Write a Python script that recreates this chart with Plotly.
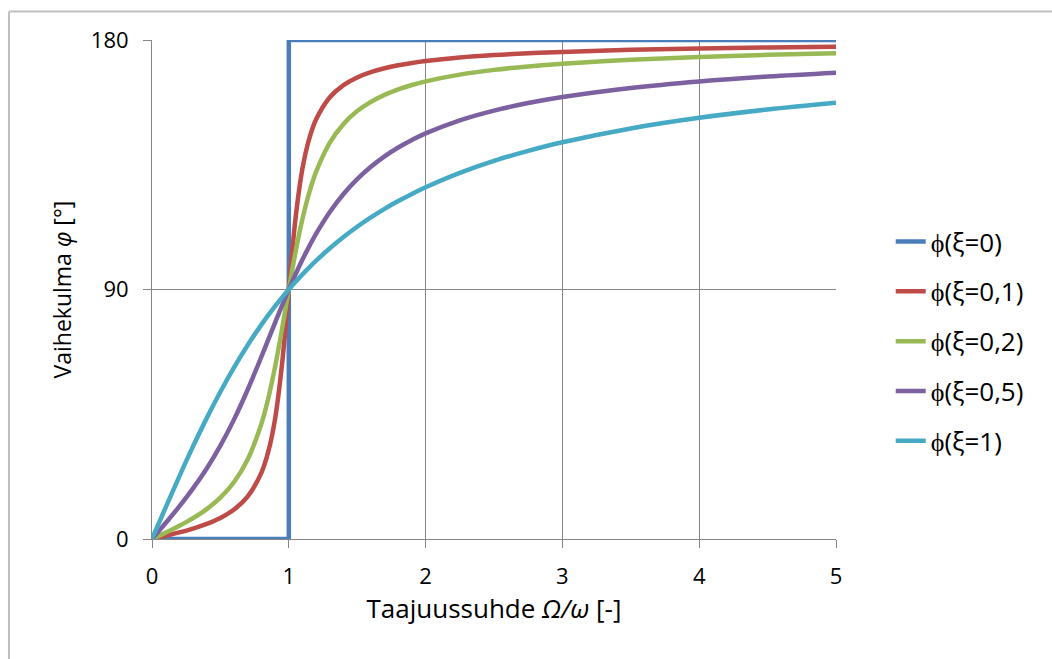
import plotly.graph_objects as go

# Frequency ratio values (x) shared by the damped curves
X = [0, 0.1, 0.2, 0.3, 0.4, 0.5, 0.6, 0.7, 0.8, 0.85, 0.9, 0.95, 1.0, 1.05, 1.1, 1.15, 1.2,
     1.3, 1.4, 1.5, 1.6, 1.7, 1.8, 1.9, 2.0, 2.25, 2.5, 2.75, 3.0, 3.5, 4.0, 4.5, 5.0]

X_XI0 = [0, 1, 1, 5]
PHI_XI0 = [0, 0, 180, 180]

PHI_XI01 = [0, 1.16, 2.39, 3.77, 5.44, 7.59, 10.62, 15.35, 23.96, 31.49, 43.45, 62.84, 90,
            116.02, 133.67, 144.50, 151.39, 159.36, 163.74, 166.50, 168.41, 169.80, 170.87,
            171.72, 172.41, 173.68, 174.56, 175.21, 175.71, 176.44, 176.95, 177.32, 177.61]

PHI_XI02 = [0, 2.31, 4.76, 7.51, 10.78, 14.93, 20.56, 28.77, 41.63, 50.78, 62.18, 75.61, 90,
            103.71, 115.51, 125.03, 132.51, 143.00, 149.74, 154.36, 157.69, 160.21, 162.18,
            163.77, 165.07, 167.51, 169.22, 170.48, 171.47, 172.91, 173.91, 174.66, 175.24]

PHI_XI05 = [0, 5.77, 11.77, 18.25, 25.46, 33.69, 43.15, 53.93, 65.77, 71.92, 78.08, 84.14, 90,
            95.58, 100.81, 105.66, 110.14, 117.96, 124.44, 129.81, 134.27, 138.03, 141.22,
            143.94, 146.31, 151.02, 154.54, 157.26, 159.44, 162.72, 165.07, 166.84, 168.23]

PHI_XI1 = [0, 11.42, 22.62, 33.40, 43.60, 53.13, 61.93, 70.00, 77.32, 80.73, 83.97, 87.06, 90,
           92.79, 95.45, 97.98, 100.39, 104.86, 108.92, 112.62, 115.99, 119.07, 121.89,
           124.49, 126.87, 132.07, 136.40, 140.03, 143.13, 148.11, 151.93, 154.94, 157.38]

NAMES = ["ϕ(ξ=0)", "ϕ(ξ=0,1)", "ϕ(ξ=0,2)", "ϕ(ξ=0,5)", "ϕ(ξ=1)"]
COLORS = ["#4A7EBB", "#BE4B48", "#98B954", "#7D60A0", "#46AAC5"]

FONT = "Open Sans"

fig = go.Figure()
series = [(X_XI0, PHI_XI0), (X, PHI_XI01), (X, PHI_XI02), (X, PHI_XI05), (X, PHI_XI1)]
for i, ((xs, ys), name, col) in enumerate(zip(series, NAMES, COLORS)):
    fig.add_trace(go.Scatter(
        x=xs, y=ys, mode="lines", name=name, legendgroup=f"g{i}",
        line=dict(color=col, width=4.5, shape="linear" if i == 0 else "spline", smoothing=1),
        cliponaxis=False,
    ))

GRID = "#868686"
fig.update_layout(
    width=1052, height=659,
    margin=dict(l=152, r=216, t=40, b=120),
    paper_bgcolor="white", plot_bgcolor="white",
    font=dict(family=FONT, size=22, color="#000000"),
    showlegend=True,
    legend=dict(x=1.08, y=0.643, xanchor="left", yanchor="top",
                font=dict(family=FONT, size=26), tracegroupgap=13,
                bgcolor="rgba(0,0,0,0)"),
    xaxis=dict(range=[0, 5], dtick=1, tick0=0, showgrid=True, gridcolor=GRID, gridwidth=1,
               showline=True, linecolor=GRID, linewidth=1, ticks="outside", ticklen=8,
               tickcolor=GRID, zeroline=False, tickfont=dict(size=22), ticklabelstandoff=10,
               title=dict(text="Taajuussuhde <i>Ω/ω</i> [-]", font=dict(size=26), standoff=8)),
    yaxis=dict(range=[0, 180], tickvals=[0, 90, 180], showgrid=True, gridcolor=GRID, gridwidth=1,
               showline=True, linecolor=GRID, linewidth=1, ticks="outside", ticklen=8,
               tickcolor=GRID, zeroline=False, tickfont=dict(size=22), ticklabelstandoff=10),
    annotations=[
        dict(text="Vaihekulma <i>φ</i> [°]", xref="paper", yref="paper",
             x=-0.1316, y=0.5, xanchor="center", yanchor="middle", textangle=-90,
             showarrow=False, font=dict(family=FONT, size=23)),
    ],
    shapes=[
        dict(type="line", xref="paper", yref="paper", x0=-0.2091, x1=-0.2091, y0=-0.3, y1=1.0571,
             line=dict(color="#BFBFBF", width=2)),
        dict(type="line", xref="paper", yref="paper", x0=-0.2091, x1=1.4, y0=1.0571, y1=1.0571,
             line=dict(color="#BFBFBF", width=2)),
    ],
)

fig.write_html("out.html")
